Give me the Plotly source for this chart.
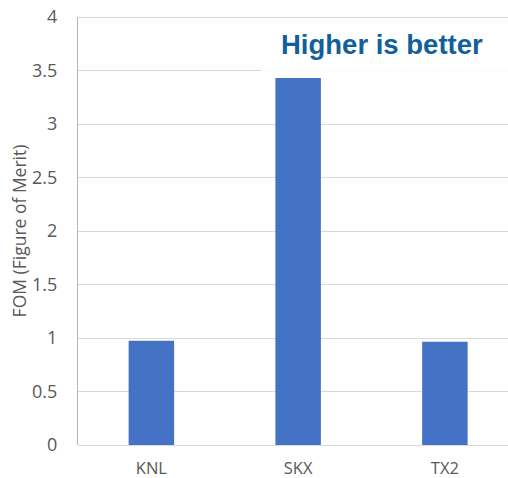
import plotly.graph_objects as go

# Figure of merit per processor
processors = ["KNL", "SKX", "TX2"]
fom_values = [0.975, 3.43, 0.965]
y_ticks = [0, 0.5, 1, 1.5, 2, 2.5, 3, 3.5, 4]
y_tick_text = ["0", "0.5", "1", "1.5", "2", "2.5", "3", "3.5", "4"]

BAR_BLUE = "#4472C4"
TEXT_GREY = "#595959"
GRID_GREY = "#d9d9d9"
AXIS_GREY = "#b4b4b4"

fig = go.Figure(
    go.Bar(
        x=processors,
        y=fom_values,
        marker=dict(color=BAR_BLUE, line=dict(width=0)),
        width=0.31,
    )
)

fig.update_layout(
    width=508,
    height=478,
    margin=dict(l=78, r=0, t=17, b=33, autoexpand=False),
    paper_bgcolor="white",
    plot_bgcolor="white",
    showlegend=False,
    font=dict(family="Open Sans", color=TEXT_GREY),
)

fig.update_xaxes(
    range=[-0.5, 2.43],
    automargin=False,
    showgrid=False,
    showline=False,
    zeroline=False,
    ticks="outside",
    ticklen=8,
    tickcolor="rgba(0,0,0,0)",
    tickfont=dict(size=16.5, color=TEXT_GREY),
)

fig.update_yaxes(
    range=[0, 4],
    automargin=False,
    tickvals=y_ticks,
    ticktext=y_tick_text,
    showgrid=True,
    gridcolor=GRID_GREY,
    gridwidth=1,
    zeroline=True,
    zerolinecolor=GRID_GREY,
    zerolinewidth=1,
    showline=True,
    linecolor=AXIS_GREY,
    linewidth=1,
    mirror=False,
    ticks="outside",
    ticklen=16,
    tickcolor="rgba(0,0,0,0)",
    tickfont=dict(size=18, color=TEXT_GREY),
    title=dict(text="FOM (Figure of Merit)", font=dict(size=17.5, color=TEXT_GREY), standoff=0),
)

# darker top border along the 4 line
fig.add_shape(
    type="line", xref="paper", yref="y",
    x0=0, x1=1, y0=4, y1=4,
    line=dict(color=AXIS_GREY, width=1),
    layer="above",
)

# white panel behind the caption, slightly translucent
fig.add_shape(
    type="rect", xref="paper", yref="y",
    x0=0.426, x1=1.0, y0=3.46, y1=3.985,
    fillcolor="rgba(255,255,255,0.88)",
    line=dict(width=0),
    layer="above",
)

fig.add_annotation(
    text="<b>Higher is better</b>",
    xref="paper", yref="y",
    x=0.946, y=3.74,
    xanchor="right", yanchor="middle",
    showarrow=False,
    font=dict(family="Liberation Sans", size=27.5, color="#11609B"),
)

fig.write_html("out.html")
